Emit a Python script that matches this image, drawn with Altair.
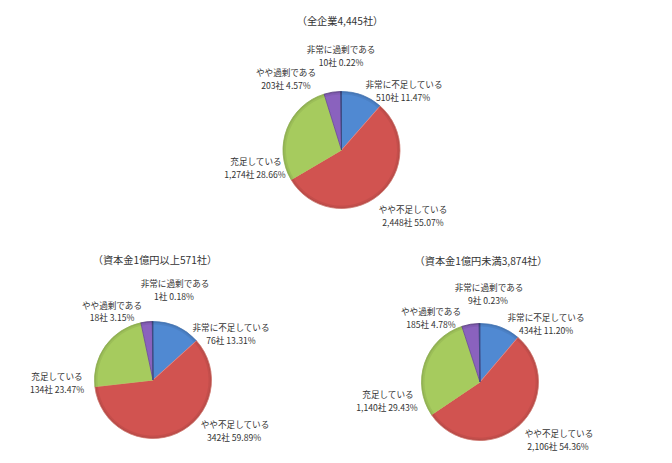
import altair as alt
import pandas as pd

# ---- data ----
categories = ["非常に不足している", "やや不足している", "充足している", "やや過剰である", "非常に過剰である"]
panel_titles = ["（全企業4,445社）", "（資本金1億円以上571社）", "（資本金1億円未満3,874社）"]
counts_all = ["510社 11.47%", "2,448社 55.07%", "1,274社 28.66%", "203社 4.57%", "10社 0.22%"]
counts_large = ["76社 13.31%", "342社 59.89%", "134社 23.47%", "18社 3.15%", "1社 0.18%"]
counts_small = ["434社 11.20%", "2,106社 54.36%", "1,140社 29.43%", "185社 4.78%", "9社 0.23%"]
share_all = [11.47, 55.07, 28.66, 4.57, 0.22]
share_large = [13.31, 59.89, 23.47, 3.15, 0.18]
share_small = [11.20, 54.36, 29.43, 4.78, 0.23]

# ---- layout & style (page pixels) ----
colors = ["#5089D2", "#D15350", "#A6CB5E", "#8A62BE", "#3A4A80"]
edges = ["#5089D2", "#F08A80", "#A6CB5E", "#6A4A96", "#3A4A80"]
M = 8
R = 58.5
centers = [(341.5, 150), (153, 380), (480, 382)]
title_xy = [(340, 22), (155, 261), (481, 262)]
name_xy = [
    [(404, 85), (413, 210), (256, 162), (286, 73), (341, 50)],
    [(231, 328), (235, 425), (57, 377), (112, 306), (175, 284)],
    [(546, 318), (559, 434), (388, 395), (431, 312), (489, 288)],
]
count_xy = [
    [(403, 98), (413, 223), (255, 175), (286, 86), (341, 63)],
    [(231, 341), (234, 438), (57, 390), (112, 318), (174, 297)],
    [(546, 331), (558, 447), (387, 408), (431, 325), (488, 301)],
]

shares = [share_all, share_large, share_small]
counts = [counts_all, counts_large, counts_small]

slices, texts = [], []
for p in range(3):
    cum = 0.0
    for i, cat in enumerate(categories):
        slices.append(dict(cat=cat, start=cum, end=cum + shares[p][i], cx=centers[p][0] - M,
                           cy=centers[p][1] - M, fill=colors[i], edge=edges[i]))
        cum += shares[p][i]
        texts.append(dict(t=cat, x=name_xy[p][i][0] - M, y=name_xy[p][i][1] - M))
        texts.append(dict(t=counts[p][i], x=count_xy[p][i][0] - M, y=count_xy[p][i][1] - M))
titles = [dict(t=panel_titles[p], x=title_xy[p][0] - M, y=title_xy[p][1] - M) for p in range(3)]

slice_df = pd.DataFrame(slices)
theta_scale = alt.Scale(domain=[0, 100], range=[0, 6.283185307])
base_enc = dict(
    x=alt.X("cx:Q", scale=None, axis=None),
    y=alt.Y("cy:Q", scale=None, axis=None),
    theta=alt.Theta("start:Q", scale=theta_scale),
    theta2="end:Q",
)

pie = alt.Chart(slice_df).mark_arc(radius=R, strokeWidth=0.8).encode(
    fill=alt.Fill("fill:N", scale=None),
    stroke=alt.Stroke("edge:N", scale=None),
    **base_enc,
)
rim = alt.Chart(slice_df).mark_arc(radius=R + 0.4, radius2=R - 3, fill="#000000", fillOpacity=0.06).encode(**base_enc)
rim2 = alt.Chart(slice_df).mark_arc(radius=R + 0.4, radius2=R - 1.2, fill="#000000", fillOpacity=0.08).encode(**base_enc)

font = "Noto Sans CJK JP"
labels = alt.Chart(pd.DataFrame(texts)).mark_text(
    font=font, fontSize=8.6, color="#333333", align="center", baseline="middle"
).encode(x=alt.X("x:Q", scale=None, axis=None), y=alt.Y("y:Q", scale=None, axis=None), text="t:N")
heads = alt.Chart(pd.DataFrame(titles)).mark_text(
    font=font, fontSize=10.2, color="#333333", align="center", baseline="middle"
).encode(x=alt.X("x:Q", scale=None, axis=None), y=alt.Y("y:Q", scale=None, axis=None), text="t:N")

chart = (
    alt.layer(pie, rim, rim2, labels, heads)
    .properties(width=656, height=447, padding=0, background="#FFFFFF")
    .configure_view(stroke=None)
)
chart.save("out.html", embed_options={"renderer": "svg", "actions": False})
